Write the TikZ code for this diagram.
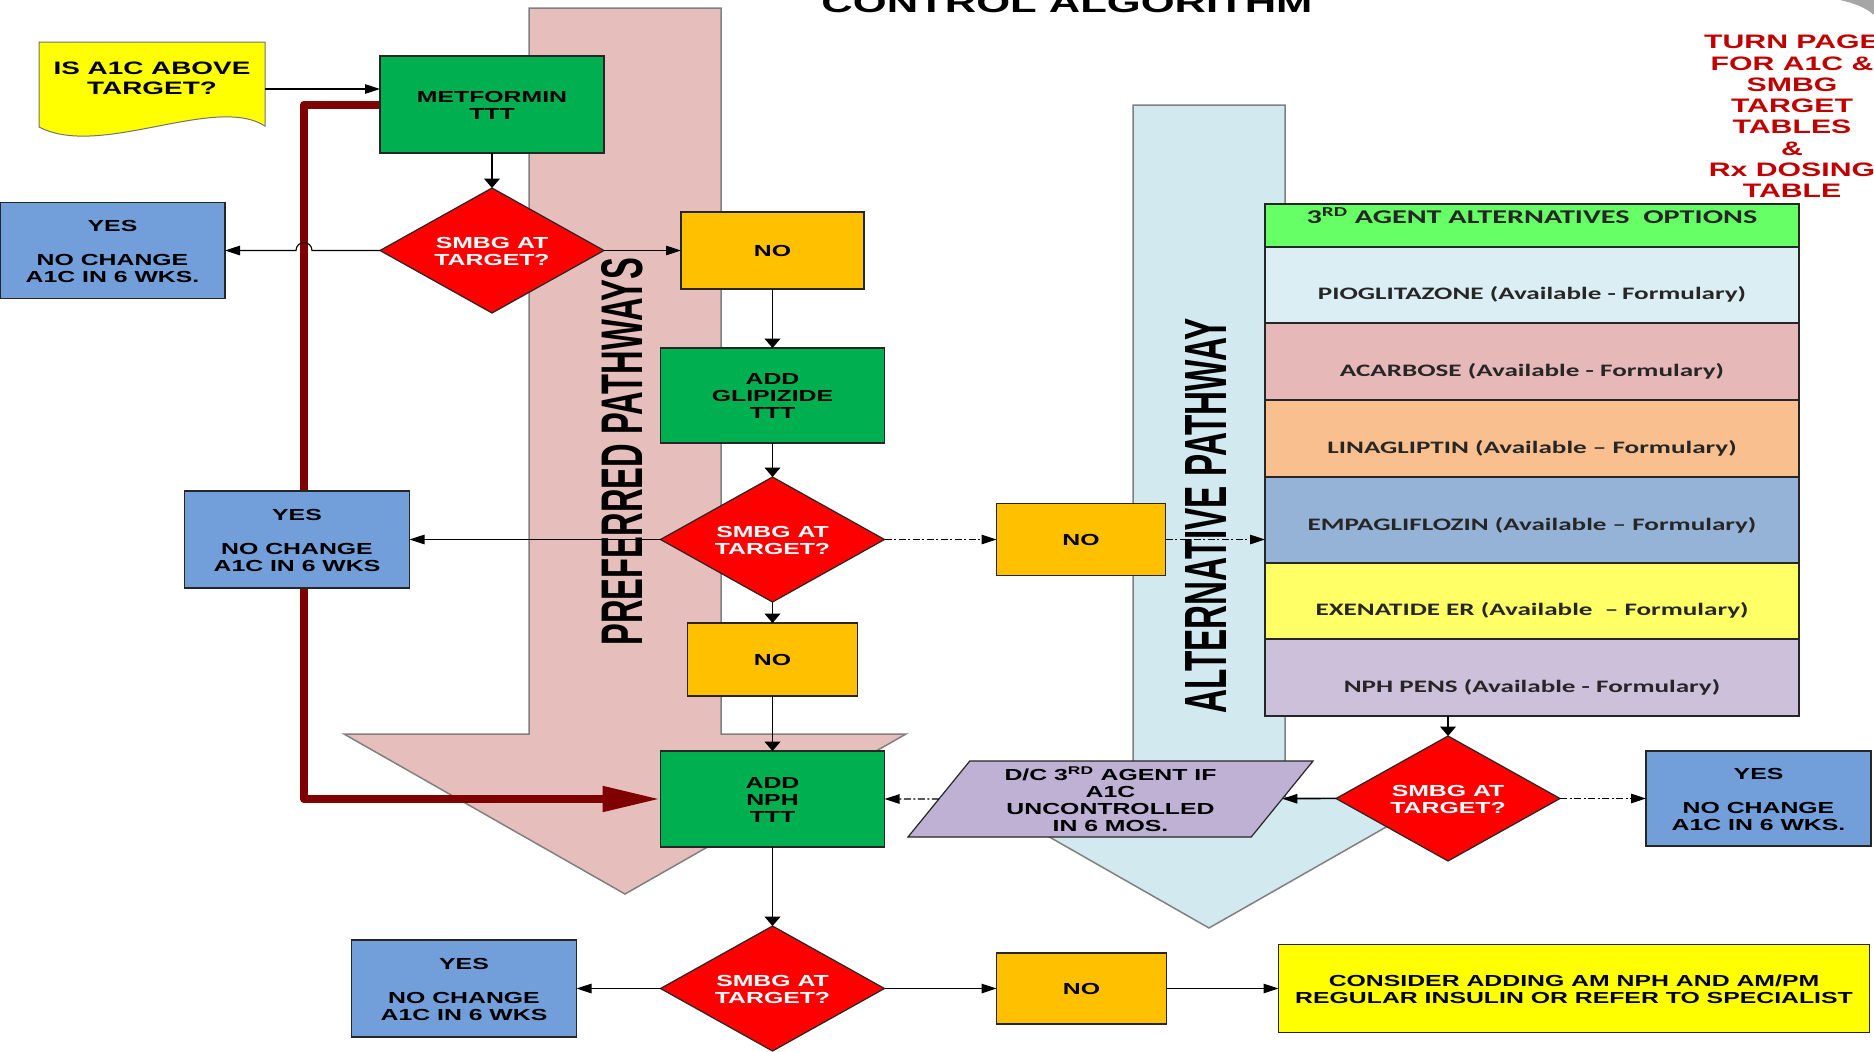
\documentclass[tikz,border=0pt]{standalone}
\usepackage{fontspec}
\setmainfont{Liberation Sans}
\newfontfamily\calfont{Carlito}
\usepackage{graphicx}
\usetikzlibrary{arrows.meta,positioning,calc,shapes.geometric,backgrounds}
\definecolor{boxgreen}{HTML}{00B050}
\definecolor{boxorange}{HTML}{FFC000}
\definecolor{boxblue}{HTML}{729FDA}
\definecolor{boxred}{HTML}{FF0000}
\definecolor{boxyellow}{HTML}{FFFF00}
\definecolor{pathpink}{HTML}{E6BFBD}
\definecolor{pathblue}{HTML}{D2E9EF}
\definecolor{linered}{HTML}{800000}
\definecolor{turnred}{HTML}{C00000}
\definecolor{dclilac}{HTML}{BEB1D4}
\definecolor{hdrgreen}{HTML}{66FF66}
\definecolor{rowpio}{HTML}{DAEEF3}
\definecolor{rowaca}{HTML}{E6B9B8}
\definecolor{rowlina}{HTML}{F9BF8F}
\definecolor{rowempa}{HTML}{95B3D7}
\definecolor{rowexen}{HTML}{FFFF66}
\definecolor{rowpens}{HTML}{CCC0DA}
% the slide was stretched sideways, so its text is too
\newcommand{\lift}[2]{\raisebox{#1}[\height][\depth]{#2}}
\newcommand{\wide}[1]{\lift{-3pt}{\scalebox{1.55}[1]{\begin{tabular}{@{}c@{}}#1\end{tabular}}}}
\tikzset{
  box/.style={
    draw=black!85,
    line width=1.2pt,
    inner sep=0pt,
    outer sep=0pt,
    minimum width=224pt,
    minimum height=96pt,
    font=\fontsize{16}{17}\selectfont\bfseries
  },
  greenbox/.style={box, fill=boxgreen},
  nobox/.style={box, fill=boxorange, minimum width=170pt, minimum height=73pt},
  yesbox/.style={box, fill=boxblue, minimum width=225pt},
  decision/.style={box, diamond, aspect=1.79, fill=boxred, text=white,
    minimum height=125pt},
  rowbox/.style={
    draw=black!85,
    line width=1.2pt,
    inner sep=0pt,
    outer sep=0pt,
    minimum width=534pt,
    minimum height=77pt,
    text=black!85,
    font=\calfont\fontsize{17.5}{18}\selectfont\bfseries
  },
  pathway/.style={draw=black!50, line width=1.5pt},
  bigword/.style={rotate=90, inner sep=0pt, font=\bfseries},
  arrow/.style={-{Triangle[length=15pt,width=9.5pt]}, line width=1.1pt},
  varrow/.style={-{Triangle[length=9.5pt,width=16pt]}, line width=1.1pt},
  dashdot/.style={dash pattern=on 7pt off 2.5pt on 2pt off 2.5pt},
  thickred/.style={
    draw=linered,
    line width=8pt,
    line join=round,
    -{Triangle[length=58pt,width=24pt]}
  }
}

\begin{document}
\begin{tikzpicture}[x=1pt, y=-1pt]
\useasboundingbox (0,0) rectangle (1874,1052);

% preferred column
\node[box, draw=none, font=\fontsize{18}{20}\selectfont\bfseries] (isa1c) at (152,89) [minimum width=226pt, minimum height=94pt]
  {\lift{12pt}{\wide{IS A1C ABOVE\\TARGET?}}};
\node[greenbox, minimum height=97pt] (met) at (492,104.5) {\wide{METFORMIN\\TTT}};
\node[decision, below=35pt of met] (d1) {\wide{SMBG AT\\TARGET?}};
\node[yesbox, left=155pt of d1] (yes1) {\wide{YES\\ \\NO CHANGE\\A1C IN 6 WKS.}};
\node[nobox, minimum width=183pt, minimum height=77pt, right=77pt of d1] (no1) {\wide{NO}};
\node[greenbox, minimum height=95pt, below=59pt of no1] (glip) {\wide{ADD\\GLIPIZIDE\\TTT}};
\node[decision, below=34pt of glip] (d2) {\wide{SMBG AT\\TARGET?}};
\node[yesbox, minimum height=97pt, left=251pt of d2] (yes2) {\wide{YES\\ \\NO CHANGE\\A1C IN 6 WKS}};
\node[nobox, minimum width=169pt, minimum height=72pt, right=112pt of d2] (no2) {\wide{NO}};
\node[nobox, below=21pt of d2] (no3) {\wide{NO}};
\node[greenbox, below=55pt of no3] (nph) {\wide{ADD\\NPH\\TTT}};
\node[decision, below=79pt of nph] (d4) {\wide{SMBG AT\\TARGET?}};
\node[yesbox, minimum height=97pt, left=84pt of d4] (yes4) {\wide{YES\\ \\NO CHANGE\\A1C IN 6 WKS}};
\node[nobox, minimum width=170pt, minimum height=71pt, right=112pt of d4] (no4) {\wide{NO}};
\node[box, fill=boxyellow, minimum width=591pt, minimum height=88pt, right=112pt of no4] (consider)
  {\wide{CONSIDER ADDING AM NPH AND AM/PM\\REGULAR INSULIN OR REFER TO SPECIALIST}};

% 3rd agent table
\node[rowbox, fill=hdrgreen, minimum height=43pt, font=\calfont\fontsize{19.5}{20}\selectfont\bfseries] (hdr) at (1532,225.5)
  {\lift{10pt}{\wide{3\textsuperscript{RD} AGENT ALTERNATIVES\ \ OPTIONS}}};
\node[rowbox, fill=rowpio, minimum height=76pt, below=0pt of hdr] (pio) {\lift{-8pt}{\wide{PIOGLITAZONE (Available - Formulary)}}};
\node[rowbox, fill=rowaca, below=0pt of pio] (aca) {\lift{-8pt}{\wide{ACARBOSE (Available - Formulary)}}};
\node[rowbox, fill=rowlina, below=0pt of aca] (lina) {\lift{-8pt}{\wide{LINAGLIPTIN (Available – Formulary)}}};
\node[rowbox, fill=rowempa, minimum height=86pt, below=0pt of lina] (empa) {\lift{-4pt}{\wide{EMPAGLIFLOZIN (Available – Formulary)}}};
\node[rowbox, fill=rowexen, minimum height=76pt, below=0pt of empa] (exen) {\lift{-8pt}{\wide{EXENATIDE ER (Available\ \ – Formulary)}}};
\node[rowbox, fill=rowpens, below=0pt of exen] (pens) {\lift{-8pt}{\wide{NPH PENS (Available - Formulary)}}};

% alternative side
\node[decision] (d3) at (1448,798.5) {\wide{SMBG AT\\TARGET?}};
\node[yesbox, minimum height=95pt, right=86pt of d3] (yes3) {\wide{YES\\ \\NO CHANGE\\A1C IN 6 WKS.}};
\node[box, trapezium, trapezium left angle=48.6, trapezium right angle=131.4,
  trapezium stretches body, minimum width=405pt, minimum height=76pt, fill=dclilac] (dc) at (1110.5,799)
  {\wide{D/C 3\textsuperscript{RD} AGENT IF\\A1C\\UNCONTROLLED\\IN 6 MOS.}};

\node[bigword] (prefl) at (622.5,451.5) {\resizebox{388pt}{41pt}{PREFERRED PATHWAYS}};
\node[bigword] (altl) at (1206,516) {\resizebox{395pt}{41pt}{ALTERNATIVE PATHWAY}};

\node[font=\bfseries, anchor=base, inner sep=0pt] (title) at (1067,12) {\resizebox{491pt}{20pt}{CONTROL ALGORITHM}};
\node[font=\fontsize{19.5}{21.3}\selectfont\bfseries, text=turnred] (turn) at (1792,116)
  {\wide{TURN PAGE\\FOR A1C \&\\SMBG\\TARGET\\TABLES\\\&\\Rx DOSING\\TABLE}};

\coordinate (bend) at (304,799);

\begin{pgfonlayer}{background}
\fill[white] (0,0) rectangle (1874,1052);
\filldraw[pathway, fill=pathpink] (529,8) -- (721,8) -- (721,734) -- (906,734)
  -- (625,894) -- (344,734) -- (529,734) -- cycle;
\filldraw[pathway, fill=pathblue] (1133,105) -- (1285,105) -- (1285,798) -- (1437,798)
  -- (1209,928) -- (981,798) -- (1133,798) -- cycle;
\draw[thickred] (met.west) -| (bend) -- (nph.west);
\filldraw[draw=black!55, line width=1pt, fill=boxyellow] (isa1c.north west) -- (isa1c.north east)
  -- ([yshift=10pt]isa1c.south east) .. controls +(-50,-32) and +(61,32) .. ([yshift=9pt]isa1c.south west) -- cycle;
\end{pgfonlayer}

% connectors
\draw[arrow] (isa1c.east) -- (isa1c.east -| met.west);
\draw[varrow] (met) -- (d1);
\draw[arrow] (d1) -- (no1);
\draw[arrow] (d1.west) -- ($(d1.west -| bend)+(8,0)$) arc[start angle=0, end angle=-180, radius=8] -- (yes1);
\draw[varrow] (no1) -- (glip);
\draw[varrow] (glip) -- (d2);
\draw[arrow] (d2) -- (yes2);
\draw[arrow, dashdot] (d2) -- (no2);
\draw[arrow, dashdot] (no2.east) -- (no2.east -| empa.west);
\draw[varrow] (d2) -- (no3);
\draw[varrow] (no3) -- (nph);
\draw[varrow] (nph) -- (d4);
\draw[arrow] (d4) -- (yes4);
\draw[arrow] (d4) -- (no4);
\draw[arrow] (no4) -- (consider);
\draw[varrow] (d3 |- pens.south) -- (d3);
\draw[arrow] (d3) -- (dc);
\draw[arrow, dashdot] (dc) -- (nph);
\draw[arrow, dashdot] (d3) -- (yes3);

% page curl in the corner
\fill[black!35] (1840,0) .. controls (1853,3) and (1865,7) .. (1874,15) -- (1874,0) -- cycle;
\end{tikzpicture}
\end{document}
